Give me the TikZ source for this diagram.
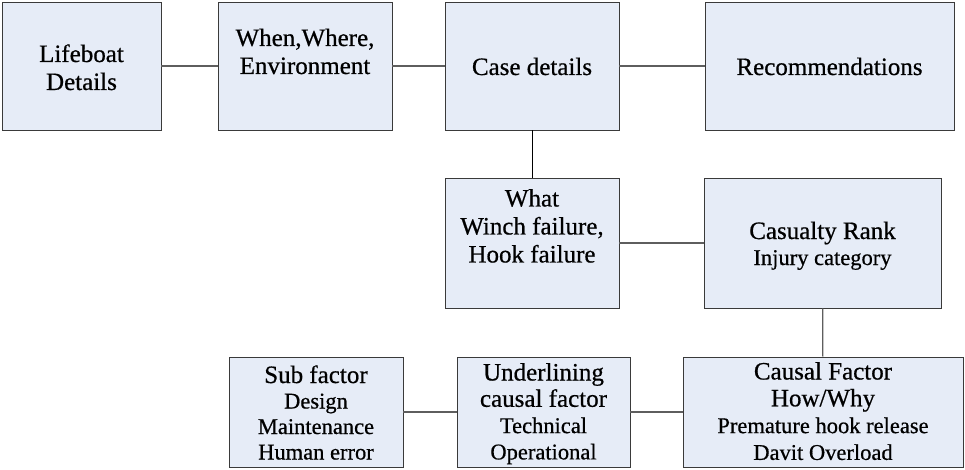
\documentclass[tikz,border=0pt]{standalone}
\usepackage{fontspec}
\setmainfont{Liberation Serif}[FakeBold=0.6]
\definecolor{boxfill}{HTML}{E6ECF7}
\definecolor{boxline}{HTML}{3A3A3A}
\definecolor{linkline}{HTML}{5E5E5E}
% stacked, centred lines; the block's baseline is that of its first line
\newcommand\stk[1]{\begin{tabular}[t]{@{}c@{}}#1\end{tabular}}
\newcommand\hd{\fontsize{25}{28}\selectfont}
\newcommand\sm{\fontsize{22.5}{26}\selectfont}
\tikzset{
  box/.style={draw=boxline, fill=boxfill, line width=0.9pt, inner sep=0pt, rectangle},
  lbl/.style={inner sep=0pt, anchor=base, text=black},
  link/.style={draw=linkline, line width=1.2pt},
}
\begin{document}
\begin{tikzpicture}[x=1pt, y=-1pt]
\useasboundingbox (0,0) rectangle (965,470);

% top row
\node[box, minimum width=159pt, minimum height=128pt] (life) at (81.5,66) {};
\node[box, minimum width=174pt, minimum height=128pt] (when) at (305,66) {};
\node[box, minimum width=174pt, minimum height=128pt] (case) at (532,66) {};
\node[box, minimum width=249pt, minimum height=128pt] (rec)  at (829.5,66) {};

% middle row
\node[box, minimum width=174pt, minimum height=130pt] (what) at (532,243) {};
\node[box, minimum width=237pt, minimum height=130pt] (cas)  at (822.5,243) {};

% bottom row
\node[box, minimum width=174pt, minimum height=110pt] (sub)    at (316,412) {};
\node[box, minimum width=173pt, minimum height=110pt] (under)  at (543.5,412) {};
\node[box, minimum width=280pt, minimum height=110pt] (causal) at (823,412) {};

% texts
\node[lbl] (life-t) at (81.5,62) {\hd\stk{Lifeboat\\Details}};
\node[lbl] (when-t) at (305,46) {\hd\stk{When,Where,\\Environment}};
\node[lbl] (case-t) at (532,75) {\hd Case details};
\node[lbl] (rec-t)  at (829.5,75) {\hd Recommendations};
\node[lbl] (what-t) at (532,206.5) {\hd\stk{What\\Winch failure,\\Hook failure}};
\node[lbl] (cas-t)  at (822.5,239) {\hd\stk{Casualty Rank\\[-2pt]{\sm Injury category}}};
\node[lbl] (sub-t)  at (316,383) {\fontsize{24}{25.5}\selectfont\stk{{\hd Sub factor}\\{\sm Design}\\{\sm Maintenance}\\{\sm Human error}}};
\node[lbl] (under-t) at (543.5,380.5) {\fontsize{24}{26.3}\selectfont\stk{{\hd Underlining}\\{\hd causal factor}\\{\sm Technical}\\{\sm Operational}}};
\node[lbl] (causal-t) at (823,379.5) {\fontsize{24}{26.8}\selectfont\stk{{\hd Causal Factor}\\{\hd How/Why}\\{\sm Premature hook release}\\{\sm Davit Overload}}};

% connectors
\draw[link] (life) -- (when);
\draw[link] (when) -- (case);
\draw[link] (case) -- (rec);
\draw[draw=black, line width=0.9pt] (case) -- (what);
\draw[link] (what) -- (cas);
\draw[link] (cas) -- (causal);
\draw[link] (causal) -- (under);
\draw[link] (under) -- (sub);
\end{tikzpicture}
\end{document}
